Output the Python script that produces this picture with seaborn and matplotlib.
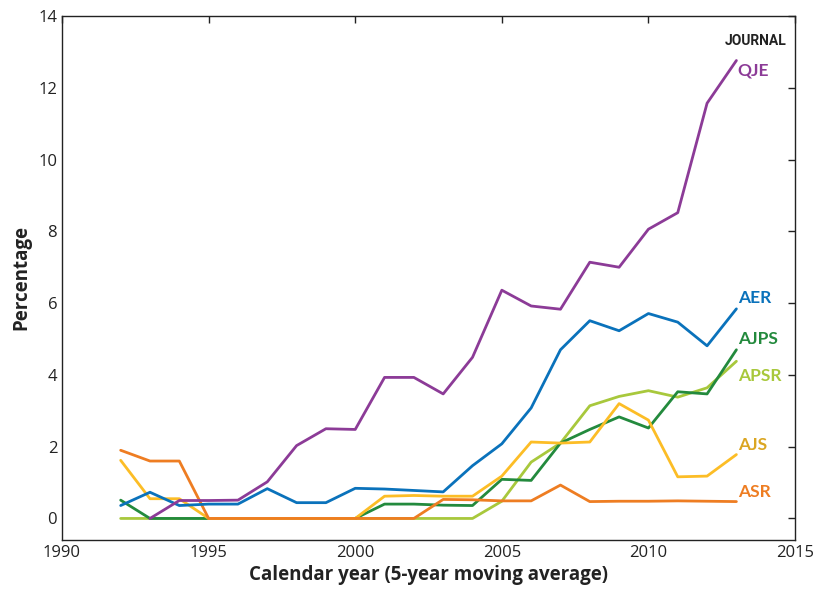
import numpy as np
import pandas as pd
import matplotlib
matplotlib.use("Agg")
import matplotlib.pyplot as plt
import seaborn as sns

years = list(range(1992, 2014))

qje = [np.nan, 0.0, 0.5, 0.5, 0.51, 1.02, 2.03, 2.5, 2.48, 3.93, 3.93, 3.47,
       4.49, 6.36, 5.92, 5.83, 7.14, 7.0, 8.06, 8.52, 11.57, 12.76]
aer = [0.36, 0.73, 0.36, 0.4, 0.4, 0.83, 0.44, 0.44, 0.84, 0.82, 0.78, 0.74,
       1.47, 2.08, 3.08, 4.7, 5.51, 5.23, 5.71, 5.47, 4.81, 5.84]
ajps = [0.51, 0.0, 0.0, 0.0, 0.0, 0.0, 0.0, 0.0, 0.0, 0.4, 0.4, 0.37,
        0.36, 1.09, 1.06, 2.1, 2.48, 2.83, 2.52, 3.53, 3.47, 4.7]
apsr = [0.0, 0.0, 0.0, 0.0, 0.0, 0.0, 0.0, 0.0, 0.0, 0.0, 0.0, 0.0,
        0.0, 0.48, 1.57, 2.1, 3.14, 3.4, 3.56, 3.38, 3.64, 4.38]
ajs = [1.62, 0.55, 0.55, 0.0, 0.0, 0.0, 0.0, 0.0, 0.0, 0.62, 0.64, 0.62,
       0.62, 1.18, 2.13, 2.1, 2.13, 3.2, 2.74, 1.16, 1.18, 1.78]
asr = [1.9, 1.6, 1.6, 0.0, 0.0, 0.0, 0.0, 0.0, 0.0, 0.0, 0.0, 0.53,
       0.52, 0.49, 0.49, 0.93, 0.47, 0.48, 0.48, 0.49, 0.48, 0.47]

journals = ["QJE", "AER", "AJPS", "APSR", "AJS", "ASR"]
series = [qje, aer, ajps, apsr, ajs, asr]
line_colors = {"QJE": "#8c3b97", "AER": "#0a72bb", "AJPS": "#238a3d",
               "APSR": "#a8c83c", "AJS": "#fcbd26", "ASR": "#ee7d22"}
label_colors = {"QJE": "#8c3b97", "AER": "#0a72bb", "AJPS": "#238a3d",
                "APSR": "#a8c83c", "AJS": "#dba622", "ASR": "#ee7d22"}
label_y = {"QJE": 12.47, "AER": 6.15, "AJPS": 5.0, "APSR": 3.98,
           "AJS": 2.06, "ASR": 0.75}

df = pd.concat([pd.DataFrame({"year": years, "pct": s, "journal": j})
                for j, s in zip(journals, series)], ignore_index=True)
df = df.dropna()

sns.set_style("white")
plt.rcParams['font.family'] = ['Open Sans', 'DejaVu Sans']

fig = plt.figure(figsize=(8.14, 5.93), dpi=100)
ax = fig.add_axes([0.0762, 0.0894, 0.9005, 0.8836])

# draw order: bottom lines first so top ones overlap like the original
order = ["APSR", "AJPS", "AJS", "ASR", "AER", "QJE"]
sns.lineplot(data=df, x="year", y="pct", hue="journal", hue_order=order,
             palette=line_colors, linewidth=2.0, legend=False, ax=ax)

for j in journals:
    ax.text(2013.05, label_y[j], j, color=label_colors[j], fontsize=12.5,
            fontweight='bold', va='center', ha='left',
            family=['Lato', 'DejaVu Sans'])
ax.text(2012.6, 13.3, "JOURNAL", color="#222222", fontsize=10,
        fontweight='bold', va='center', ha='left',
        family=['Roboto', 'DejaVu Sans'])

ax.set_xlim(1990, 2015)
ax.set_ylim(-0.6, 14)
ax.set_xticks([1990, 1995, 2000, 2005, 2010, 2015])
ax.set_yticks([0, 2, 4, 6, 8, 10, 12, 14])
ax.tick_params(direction='in', top=True, right=True, length=5, width=1,
               labelsize=12, colors='#222222')
for sp in ax.spines.values():
    sp.set_visible(True)
    sp.set_color('#222222')
    sp.set_linewidth(1.0)

ax.set_xlabel("Calendar year (5-year moving average)", fontsize=13.5,
              fontweight='bold', color='#222222', labelpad=3)
ax.set_ylabel("Percentage", fontsize=13.5, fontweight='bold',
              color='#222222', labelpad=5)

fig.savefig("out.png", dpi=100)
